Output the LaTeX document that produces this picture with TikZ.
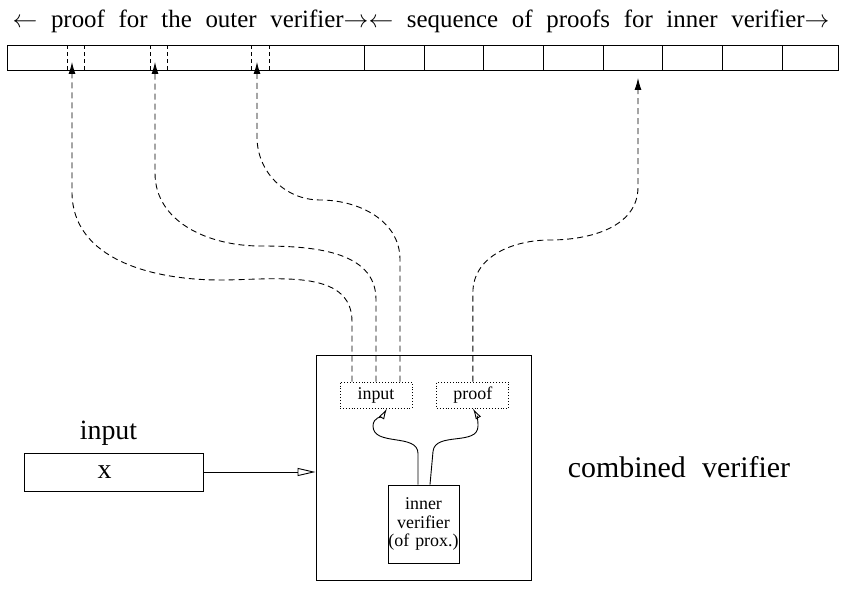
\documentclass[tikz,border=0pt]{standalone}
\usepackage{fontspec}
\setmainfont{Liberation Serif}[WordSpace=2.2]
\newfontfamily\tightserif{Liberation Serif}
\usetikzlibrary{arrows.meta,positioning}

\begin{document}
\begin{tikzpicture}[x=1bp, y=1bp, line width=0.9bp,
		box/.style={draw, rectangle, inner sep=0pt},
		slot/.style={draw, dotted, rectangle, inner sep=0pt, minimum width=72bp, minimum height=26bp, font=\fontsize{18}{20}\selectfont},
		link/.style={dash pattern=on 6bp off 4bp, -{Latex[length=12bp,width=7bp]}},
		feed/.style={-{Latex[open,length=11bp,width=6bp]}}]
		\useasboundingbox (0,0) rectangle (842,592);

		\node (banner) at (421,564) [anchor=base, inner sep=0pt, font=\fontsize{25}{30}\selectfont] {$\leftarrow$ proof for the outer verifier$\rightarrow\leftarrow$ sequence of proofs for inner verifier$\rightarrow$};

		% the proof string
		\draw (7,522) rectangle (838,547);
		\foreach \x in {364,424,483,543,603,662,722,782} \draw (\x,522) -- (\x,547);
		\foreach \x in {67,84,150,167,251,269} \draw[dash pattern=on 4bp off 3bp] (\x,522) -- (\x,547);
		\coordinate (q1) at (72,530);
		\coordinate (q2) at (155,530);
		\coordinate (q3) at (257,530);
		\coordinate (q4) at (638,514);

		\node (combined) at (423.5,124.5) [box, minimum width=215bp, minimum height=225bp] {};
		\node (inp) at (376,197) [slot] {input};
		\node (prf) [slot, right=24bp of inp] {proof};
		\node (inner) at (423.5,68) [box, text width=71bp, minimum height=78bp, align=center, font=\tightserif\fontsize{18}{19}\selectfont] {inner\\verifier\\(of prox.)};
		\node (cvlabel) [right=36bp of combined, inner sep=0pt, font=\fontsize{30}{34}\selectfont] {combined verifier};

		\node (xbox) at (113.5,120) [box, minimum width=179bp, minimum height=38bp, font=\fontsize{28}{30}\selectfont] {\hspace*{-18bp}x};
		\node (xlabel) [above=7bp of xbox, xshift=-5bp, inner sep=0pt, font=\fontsize{28}{30}\selectfont] {input};

		\draw [-{Triangle[open,length=18bp,width=8bp]}] (xbox.east) -- (xbox.east -| combined.west);

		\draw [link] ([xshift=-24bp]inp.north) -- ++(0,60) to[out=90,in=0] (220,312) to[out=180,in=-90] (72,400) -- (q1);
		\draw [link] (inp.north) -- ++(0,82) to[out=90,in=0] (260,346) to[out=180,in=-90] (155,419) -- (q2);
		\draw [link] ([xshift=24bp]inp.north) -- ++(0,122) to[out=90,in=0] (320,392) to[out=180,in=-90] (257,455) -- (q3);
		\draw [link] (prf.north) -- ++(0,89) to[out=90,in=180] (550,352) to[out=0,in=-90] (638,405) -- (q4);

		\draw [feed] ([xshift=-5.5bp]inner.north) -- ++(0,31) to[out=90,in=-90] (373,166) to[out=90,in=-120] ([xshift=11bp]inp.south);
		\draw [feed] ([xshift=6.5bp]inner.north) -- ++(3,33) to[out=85,in=-90] (478,166) to[out=90,in=-60] (prf.south);
	\end{tikzpicture}
\end{document}
